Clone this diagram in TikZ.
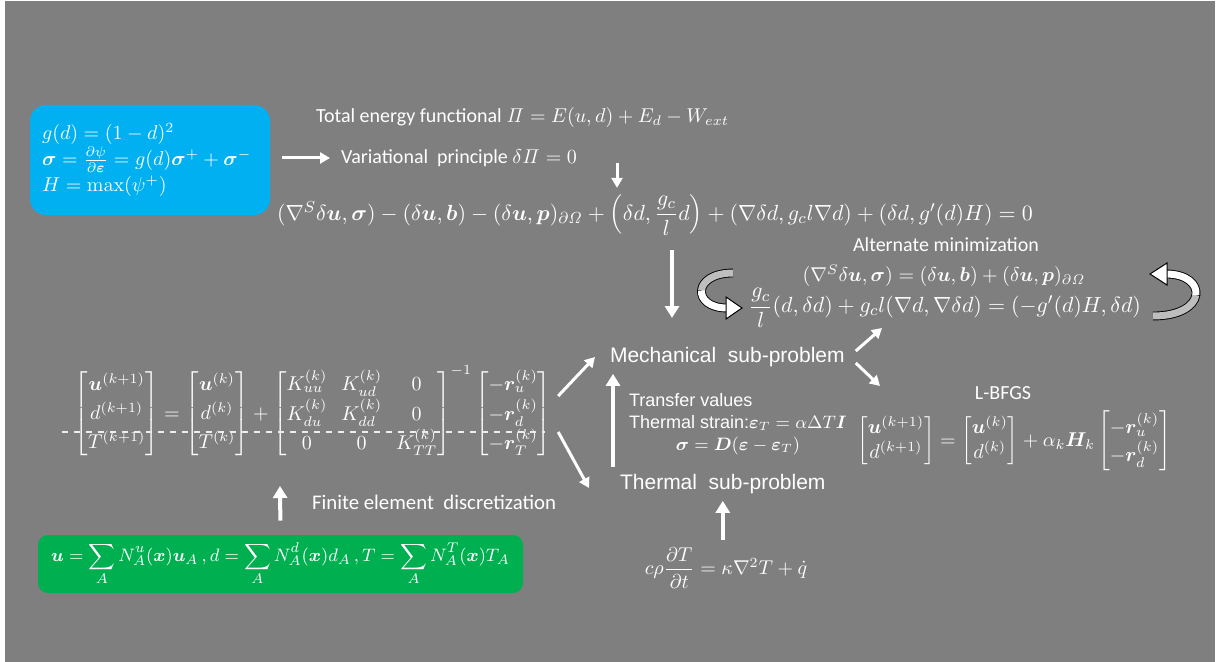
\documentclass[tikz,border=0pt]{standalone}
\usepackage{amsmath}
\usepackage{bm}
\usepackage[no-math]{fontspec}
\setmainfont{Carlito}
\newfontfamily\arialf{Liberation Sans}
\usetikzlibrary{arrows.meta,positioning,calc}
\definecolor{slide}{RGB}{127,127,127}
\definecolor{skyb}{RGB}{0,176,240}
\definecolor{leaf}{RGB}{0,176,80}
\definecolor{ribgray}{RGB}{190,190,190}

\begin{document}
\begin{tikzpicture}[x=0.5pt,y=-0.5pt,>={Triangle[length=5pt,width=5.5pt]},font=\fontsize{10}{12}\selectfont,text=white]
\tikzstyle{wa}=[draw=white,line width=1.5pt,->]
\tikzstyle{wb}=[draw=white,line width=2pt,-{Triangle[length=6pt,width=7pt]}]
\tikzstyle{sub}=[font=\arialf\fontsize{10.5}{12}\selectfont,anchor=west]
\tikzstyle{big}=[font=\fontsize{10.8}{13}\selectfont]
\tikzstyle{rib}=[draw=black,line width=4.4pt]
\tikzstyle{ribin}=[line width=3.5pt]
\fill[white] (0,0) rectangle (1218,662);
\fill[slide] (5,1) rectangle (1215,662);
\useasboundingbox (0,0) rectangle (1218,662);

% phase field model
\node[fill=skyb,rounded corners=8pt,minimum width=120pt,minimum height=55pt,text width=108pt,align=left,inner xsep=6pt,inner ysep=7pt,font=\fontsize{10.2}{13}\selectfont] (prop) at (150,160)
  {$g(d)=(1-d)^2$\\ $\bm{\sigma}=\frac{\partial\psi}{\partial\bm{\varepsilon}}=g(d)\bm{\sigma}^{+}+\bm{\sigma}^{-}$\\ $H=\max(\psi^{+})$};
\node[anchor=west] (tot) at (309,118) {Total energy functional $\mathit{\Pi}=E(u,d)+E_d-W_{ext}$};
\node[anchor=west] (var) at (334,158) {Variational\ \ principle $\delta\mathit{\Pi}=0$};
\node[big] (weak) at (655,215) {$(\nabla^S\delta\bm{u},\bm{\sigma})-(\delta\bm{u},\bm{b})-(\delta\bm{u},\bm{p})_{\partial\mathit{\Omega}}+\left(\delta d,\dfrac{g_c}{l}d\right)+(\nabla\delta d,g_cl\nabla d)+(\delta d,g'(d)H)=0$};
\draw[wa,shorten <=6pt,shorten >=2pt] (prop.east |- var.west) -- (var.west);
\coordinate (v1) at (617,163);
\draw[wa] (v1) -- (v1 |- weak.north);

% alternate minimization
\node (alttit) at (946,245) {Alternate minimization};
\node (alt1) at (944,276) {$(\nabla^S\delta\bm{u},\bm{\sigma})=(\delta\bm{u},\bm{b})+(\delta\bm{u},\bm{p})_{\partial\mathit{\Omega}}$};
\node[big] (alt2) at (945,308) {$\dfrac{g_c}{l}(d,\delta d)+g_cl(\nabla d,\nabla\delta d)=(-g'(d)H,\delta d)$};
\coordinate (v2) at (672,318);
\draw[wb,shorten <=4pt] (weak.south -| v2) -- (v2);
% curved arrows
\draw[rib] (733,273) .. controls (692,273) and (692,308) .. (727,308);
\draw[ribgray,ribin] (733,273) .. controls (712.5,273) and (702.25,281.75) .. (701.5,290.5);
\draw[white,ribin] (701.5,290.5) .. controls (700.75,299.25) and (709.5,308) .. (727,308);
\filldraw[fill=white,draw=black,line width=0.5pt] (726,297) -- (742,308) -- (726,319) -- cycle;
\draw[rib] (1153,316) .. controls (1208,316) and (1208,274) .. (1166,274);
\draw[ribgray,ribin] (1153,316) .. controls (1180.5,316) and (1194.25,305.5) .. (1195.9,295);
\draw[white,ribin] (1195.9,295) .. controls (1197.5,284.5) and (1187,274) .. (1166,274);
\filldraw[fill=white,draw=black,line width=0.5pt] (1167,263) -- (1150,274) -- (1167,285) -- cycle;

% coupled problem
\node (kmat) at (313,412) {\arraycolsep=3.5pt\def\arraystretch{1.2}$\begin{bmatrix}\bm{u}^{(k+1)}\\ d^{(k+1)}\\ T^{(k+1)}\end{bmatrix}=\begin{bmatrix}\bm{u}^{(k)}\\ d^{(k)}\\ T^{(k)}\end{bmatrix}+\begin{bmatrix}K_{uu}^{(k)} & K_{ud}^{(k)} & 0\\ K_{du}^{(k)} & K_{dd}^{(k)} & 0\\ 0 & 0 & K_{TT}^{(k)}\end{bmatrix}^{-1}\begin{bmatrix}-\bm{r}_u^{(k)}\\ -\bm{r}_d^{(k)}\\ -\bm{r}_T^{(k)}\end{bmatrix}$};
\draw[white!85!slide,line width=0.6pt,dash pattern=on 3pt off 3pt] (62,432) -- (545,432);
\node[sub] (mech) at (603,357) {Mechanical\ \ sub-problem};
\node[sub] (therm) at (613,484) {Thermal\ \ sub-problem};
\node[font=\arialf\fontsize{9}{11}\selectfont,anchor=west] (xfer) at (622,424) {\begin{tabular}{@{}l@{}}Transfer values\\ Thermal strain:$\bm{\varepsilon}_T=\alpha\Delta T\bm{I}$\\ \multicolumn{1}{@{}c@{}}{$\bm{\sigma}=\bm{D}(\bm{\varepsilon}-\bm{\varepsilon}_T)$}\end{tabular}};
\draw[wa] ([yshift=8pt]kmat.east) -- ([xshift=-4pt]mech.west);
\draw[wa] ([yshift=-10pt]kmat.east) -- ([xshift=-12pt,yshift=-2pt]therm.west);
\draw[wb] (therm.north west) -- (therm.north west |- mech.south);
\node[inner sep=1pt] (lb) at (1003,393) {L-BFGS};
\node (lbeq) at (1014,441) {$\begin{bmatrix}\bm{u}^{(k+1)}\\ d^{(k+1)}\end{bmatrix}=\begin{bmatrix}\bm{u}^{(k)}\\ d^{(k)}\end{bmatrix}+\alpha_k\bm{H}_k\begin{bmatrix}-\bm{r}_u^{(k)}\\ -\bm{r}_d^{(k)}\end{bmatrix}$};
\coordinate (m1) at (882,328);
\coordinate (m2) at (880,386);
\draw[wa] ([xshift=2pt,yshift=3pt]mech.east) -- (m1);
\draw[wa] ([xshift=2pt,yshift=-3pt]mech.east) -- (m2);

% heat equation and discretization
\node (heat) at (726,568) {$c\rho\dfrac{\partial T}{\partial t}=\kappa\nabla^2T+\dot{q}$};
\draw[wb] (heat.north -| therm.south) -- (therm.south);
\node[anchor=west,font=\fontsize{10.4}{12}\selectfont] (femt) at (305,502) {Finite element\ \ discretization};
\node[fill=leaf,rounded corners=5pt,minimum width=242.5pt,minimum height=29pt,inner sep=1pt,font=\fontsize{9.5}{11}\selectfont] (fem) at (280.5,564)
  {$\displaystyle\bm{u}=\sum_A N_A^u(\bm{x})\bm{u}_A\,,d=\sum_A N_A^d(\bm{x})d_A\,,T=\sum_A N_A^T(\bm{x})T_A$};
\coordinate (f1) at (280,486);
\draw[wb,shorten <=7pt] (fem.north) -- (f1);
\end{tikzpicture}
\end{document}
